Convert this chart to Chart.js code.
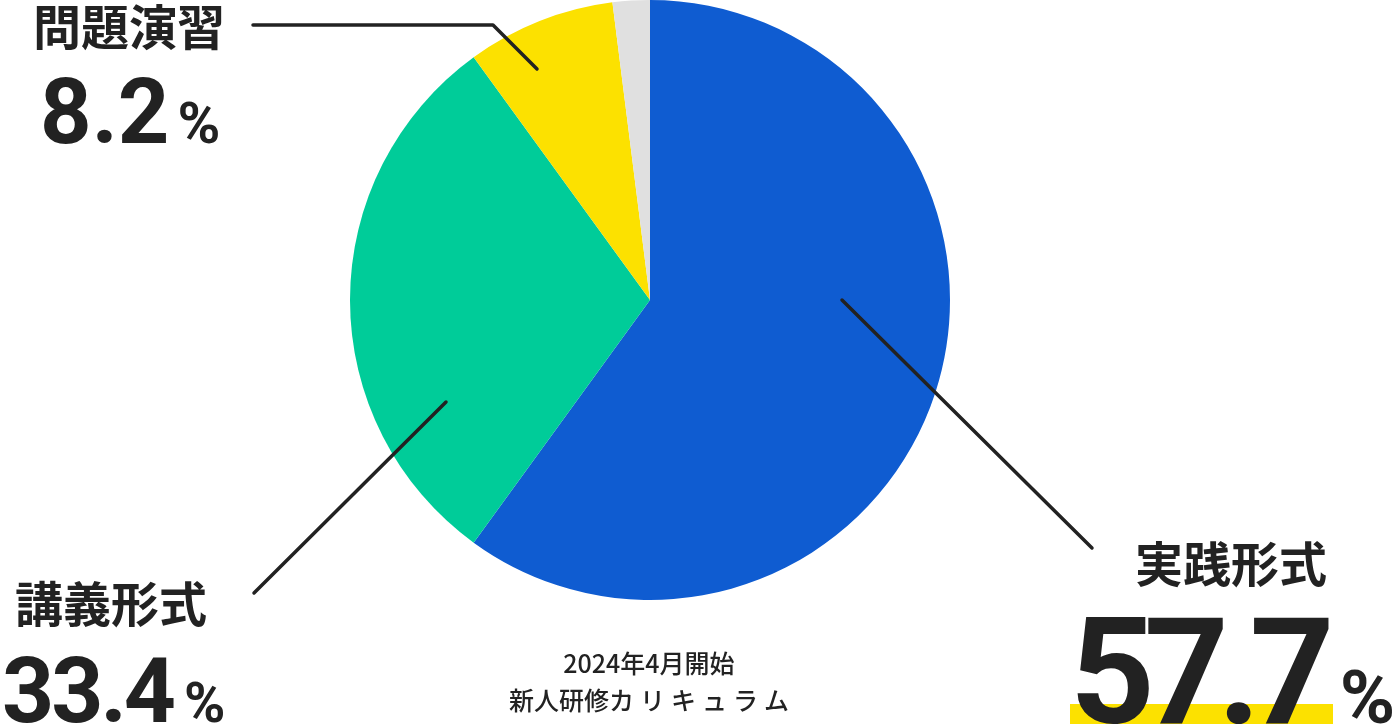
<!DOCTYPE html>
<html lang="ja">
<head>
<meta charset="utf-8">
<title>新人研修カリキュラム</title>
<script src="https://cdn.jsdelivr.net/npm/chart.js@4.4.1/dist/chart.umd.min.js"></script>
<style>
  html, body { margin: 0; padding: 0; background: #fff; }
  body { width: 1396px; height: 726px; position: relative; overflow: hidden; color: #222; }
  #myChart { position: absolute; left: 0; top: 0; z-index: 0; }
  .lbl { position: absolute; z-index: 2; white-space: nowrap; line-height: 1; }
  .ttl { font-family: "Noto Sans CJK JP", sans-serif; font-weight: 700; font-size: 48px; }
  .val { font-family: Roboto, sans-serif; font-weight: 700; }
  .bar { position: absolute; z-index: 1; background: #FCE100; }
  .cap { position: absolute; z-index: 2; left: 499px; width: 300px; text-align: center;
         font-family: "Noto Sans CJK JP", sans-serif; font-weight: 500; font-size: 25px; line-height: 1; }
  .kana { letter-spacing: 6px; }
</style>
</head>
<body>
<canvas id="myChart" width="1396" height="726"></canvas>

<div class="lbl ttl" id="t0"></div>
<div class="lbl val" id="v0"></div>
<div class="bar" style="left:1070px;top:704px;width:263px;height:20px;"></div>
<div class="lbl ttl" id="t1"></div>
<div class="lbl val" id="v1"></div>
<div class="lbl ttl" id="t2"></div>
<div class="lbl val" id="v2"></div>

<div class="cap" style="top:650px;">2024年4月開始</div>
<div class="cap" style="top:687px;">新人研修<span class="kana">カリキュラ</span>ム</div>

<script>
// slice sizes as drawn (clockwise from top)
const categories = ['実践形式', '講義形式', '問題演習', 'その他'];
const sliceValues = [60, 30, 8, 2];
const sliceColors = ['#0F5CD1', '#00CC99', '#FCE100', '#E0E0E0'];
// percentages printed next to the pie
const shownPercents = ['57.7', '33.4', '8.2'];

// label boxes
let labelBoxes = [
    {t: [1135, 537], v: [1070, 599], size: 148, spacing: -11, pctSize: 75, pctGap: 16},
    {t: [15, 577], v: [2, 646], size: 91, spacing: -3, pctSize: 56, pctGap: 11},
    {t: [33, 0], v: [40, 68], size: 90, spacing: 0, pctSize: 58, pctGap: 8}
];
for (let i = 0; i < labelBoxes.length; i++) {
    let b = labelBoxes[i];
    let t = document.getElementById('t' + i);
    t.textContent = categories[i];
    t.style.left = b.t[0] + 'px';
    t.style.top = b.t[1] + 'px';
    let v = document.getElementById('v' + i);
    v.style.left = b.v[0] + 'px';
    v.style.top = b.v[1] + 'px';
    v.style.fontSize = b.size + 'px';
    v.innerHTML = `<span style="letter-spacing:${b.spacing}px">${shownPercents[i]}</span><span style="font-size:${b.pctSize}px;margin-left:${b.pctGap}px">%</span>`;
}

// leader lines, offsets from pie centre
const leaders = [
    [[192, 0], [442, 248]],
    [[-204, 102], [-396, 293]],
    [[-113, -231], [-157, -275], [-397, -275]]
];

const leaderPlugin = {
    id: 'leaders',
    afterDraw(chart) {
        let arc = chart.getDatasetMeta(0).data[0];
        let c = chart.ctx;
        c.save();
        c.strokeStyle = '#222';
        c.lineWidth = 3.5;
        c.lineCap = 'round';
        c.lineJoin = 'round';
        for (let i = 0; i < leaders.length; i++) {
            c.beginPath();
            for (let j = 0; j < leaders[i].length; j++) {
                let x = arc.x + leaders[i][j][0];
                let y = arc.y + leaders[i][j][1];
                if (j === 0) c.moveTo(x, y); else c.lineTo(x, y);
            }
            c.stroke();
        }
        c.restore();
    }
};

const ctx = document.getElementById('myChart').getContext('2d');
let chart = new Chart(ctx, {
    type: 'pie',
    data: {
        labels: categories,
        datasets: [{
            data: sliceValues,
            backgroundColor: sliceColors,
            borderWidth: 0
        }]
    },
    options: {
        responsive: false,
        maintainAspectRatio: false,
        animation: false,
        layout: { padding: { left: 350, right: 446, top: 0, bottom: 126 } },
        plugins: {
            legend: { display: false },
            tooltip: { enabled: false }
        }
    },
    plugins: [leaderPlugin]
});
</script>
</body>
</html>
